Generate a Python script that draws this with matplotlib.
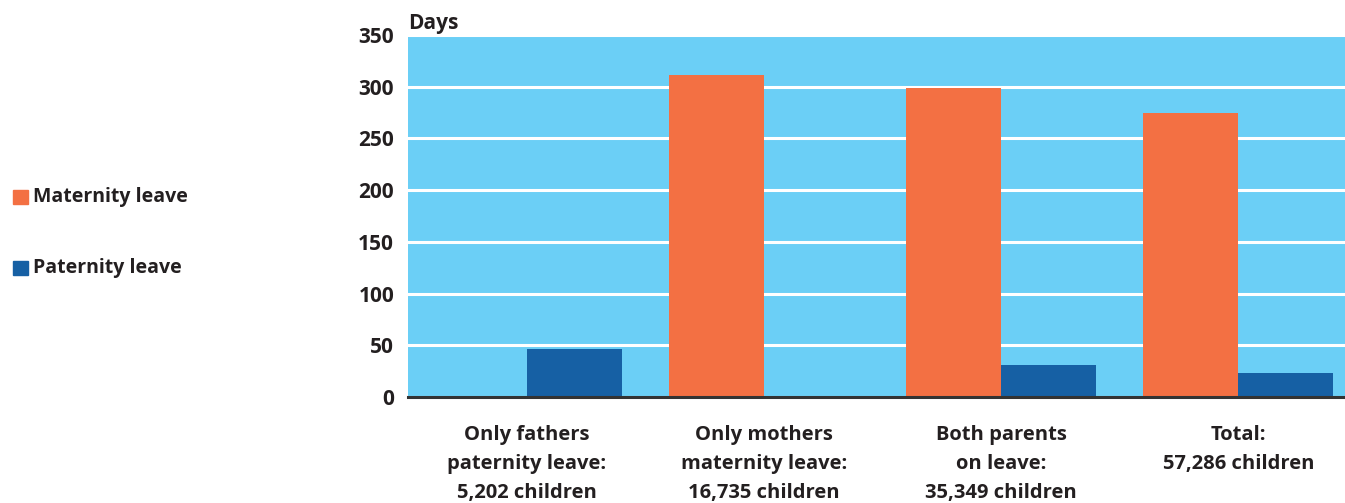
import numpy as np
import matplotlib
matplotlib.use("Agg")
import matplotlib.pyplot as plt
from matplotlib.patches import Rectangle

# ==============================
# DATA
# ==============================
groups = [
    "Only fathers\npaternity leave:\n5,202 children",
    "Only mothers\nmaternity leave:\n16,735 children",
    "Both parents\non leave:\n35,349 children",
    "Total:\n57,286 children",
]
maternity = [0, 311, 299, 275]
paternity = [46.5, 0, 31, 23]
yticks = [0, 50, 100, 150, 200, 250, 300, 350]

# ==============================
# STYLE
# ==============================
plt.rcParams["font.family"] = ["Open Sans", "DejaVu Sans"]
plt.rcParams["font.weight"] = "bold"
c_mat = "#F37043"
c_pat = "#1660A4"
c_bg = "#6BCFF6"
c_txt = "#231F20"

fig = plt.figure(figsize=(13.45, 5.03), dpi=100)
ax = fig.add_axes([408 / 1345, 1 - 397 / 503, 1 - 408 / 1345, 362 / 503])
ax.set_facecolor(c_bg)

x = np.arange(len(groups))
w = 0.4
ax.bar(x - w / 2, maternity, w, color=c_mat, zorder=3)
ax.bar(x + w / 2, paternity, w, color=c_pat, zorder=3)

ax.set_ylim(0, 350)
ax.set_xlim(-0.502, 3.45)
ax.set_yticks(yticks)
ax.set_yticklabels([str(t) for t in yticks], fontsize=15, color=c_txt, fontweight="bold")
ax.yaxis.grid(True, color="white", linewidth=2.2, zorder=1)
ax.set_axisbelow(True)
ax.tick_params(axis="y", length=0, pad=10)
ax.tick_params(axis="x", length=0, pad=20)
ax.set_xticks(x)
ax.set_xticklabels(groups, fontsize=14.5, color=c_txt, fontweight="bold", linespacing=1.6)

for s in ["top", "right", "left"]:
    ax.spines[s].set_visible(False)
ax.spines["bottom"].set_color("#333333")
ax.spines["bottom"].set_linewidth(2.2)
ax.spines["bottom"].set_zorder(5)

fig.text(408 / 1345, 1 - 24 / 503, "Days", fontsize=15, color=c_txt, fontweight="bold",
         ha="left", va="center")

# legend drawn by hand on the left
for yc, col, lab in [(197, c_mat, "Maternity leave"), (268, c_pat, "Paternity leave")]:
    fig.patches.append(Rectangle((13 / 1345, 1 - (yc + 7) / 503), 15 / 1345, 14 / 503,
                                 transform=fig.transFigure, color=col))
    fig.text(33 / 1345, 1 - yc / 503, lab, fontsize=14, color=c_txt, fontweight="bold",
             ha="left", va="center")

fig.savefig("out.png", dpi=100)
